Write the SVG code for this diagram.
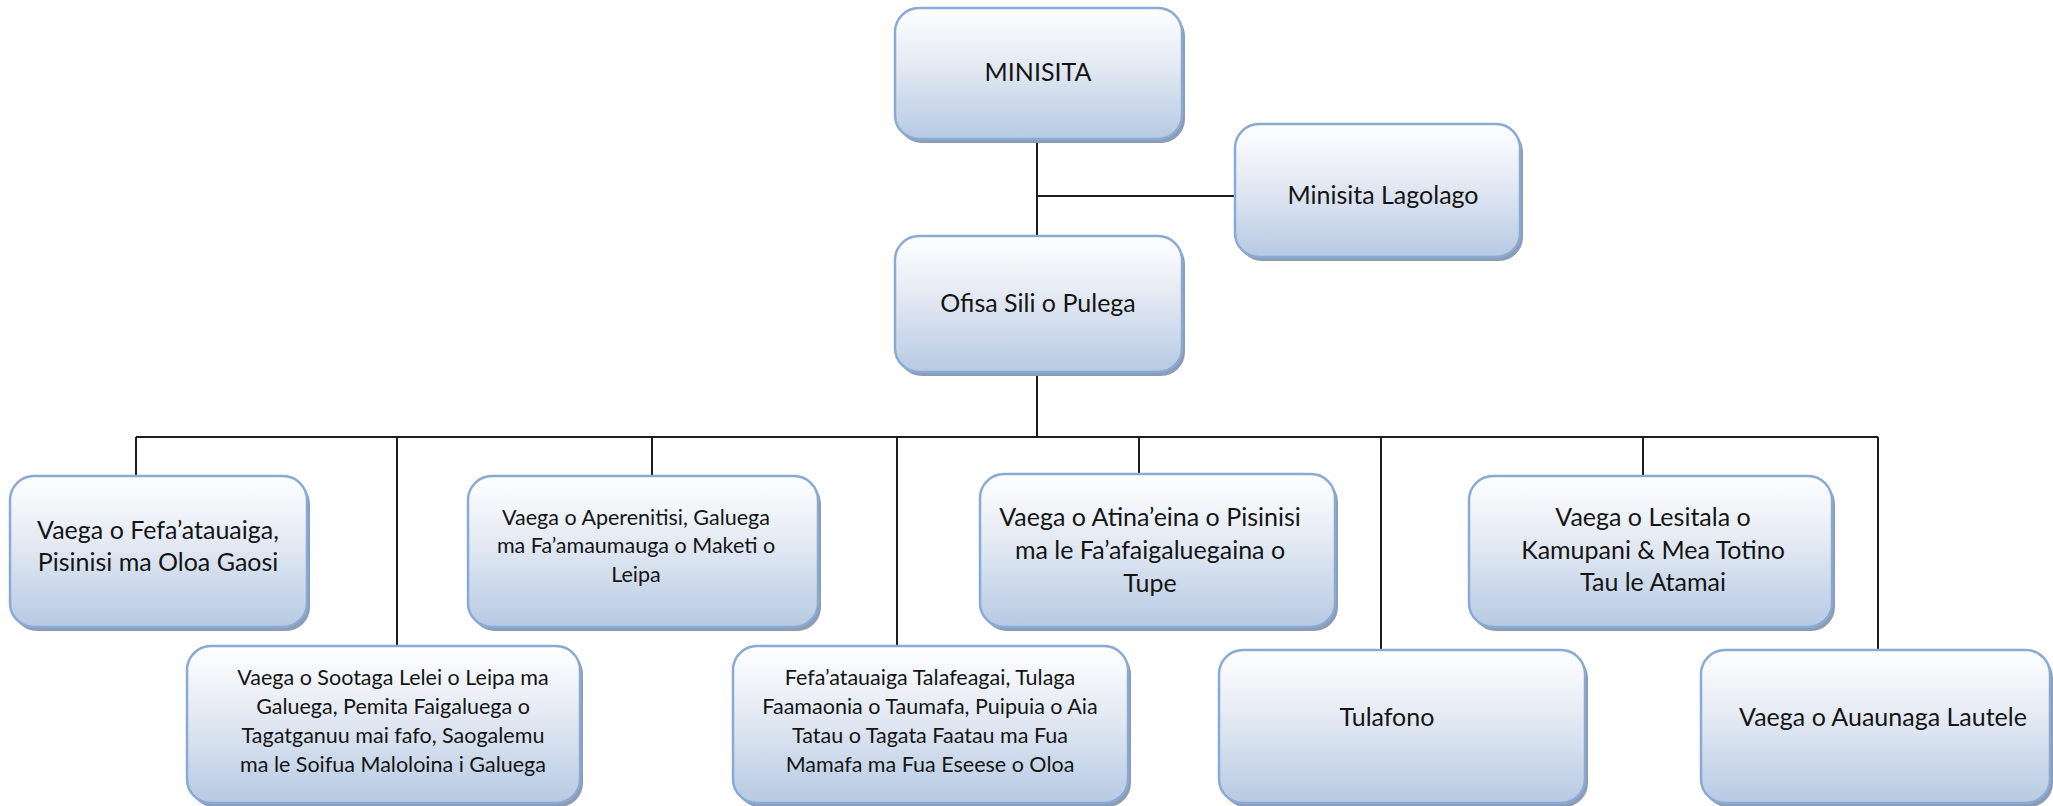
<svg xmlns="http://www.w3.org/2000/svg" width="2053" height="806" viewBox="0 0 2053 806">
<defs>
<linearGradient id="g" x1="0" y1="0" x2="0" y2="1">
<stop offset="0" stop-color="#ffffff"/>
<stop offset="0.45" stop-color="#e3e9f3"/>
<stop offset="1" stop-color="#b6cae3"/>
</linearGradient>
</defs>
<style>
.sh{fill:#8d9cb3;}
.bx{fill:url(#g);stroke:#8aaad6;stroke-width:2.5;}
.t{font-family:Lato,"Open Sans",sans-serif;fill:#141414;text-anchor:middle;}
.L{font-size:25px;}
.S{font-size:21.5px;}
.c{fill:none;stroke:#1e1e1e;stroke-width:2;}
</style>
<rect width="2053" height="806" fill="#ffffff"/>
<g id="connectors">
<path class="c" d="M1037 139V236M1037 196H1235M1037 372V437M136 437H1878M136 437V476M397 437V646M652 437V476M897 437V646M1139 437V474M1381 437V650M1643 437V476M1878 437V650"/>
</g>
<g id="n-minisita">
<rect class="sh" x="898" y="12" width="287" height="131" rx="24"/>
<rect class="bx" x="895" y="8" width="287" height="131" rx="24"/>
<text class="t L" x="1038" y="81">MINISITA</text>
</g>
<g id="n-lagolago">
<rect class="sh" x="1238" y="128" width="285" height="133" rx="24"/>
<rect class="bx" x="1235" y="124" width="285" height="133" rx="24"/>
<text class="t L" x="1383" y="204">Minisita Lagolago</text>
</g>
<g id="n-ofisa">
<rect class="sh" x="898" y="240" width="287" height="136" rx="24"/>
<rect class="bx" x="895" y="236" width="287" height="136" rx="24"/>
<text class="t L" x="1038" y="312">Ofisa Sili o Pulega</text>
</g>
<g id="n-fefa">
<rect class="sh" x="13" y="480" width="297" height="151" rx="24"/>
<rect class="bx" x="10" y="476" width="297" height="151" rx="24"/>
<text class="t L" x="158" y="539">Vaega o Fefa’atauaiga,</text>
<text class="t L" x="158" y="571">Pisinisi ma Oloa Gaosi</text>
</g>
<g id="n-aperenitisi">
<rect class="sh" x="471" y="480" width="350" height="151" rx="24"/>
<rect class="bx" x="468" y="476" width="350" height="151" rx="24"/>
<text class="t S" x="636" y="525">Vaega o Aperenitisi, Galuega</text>
<text class="t S" x="636" y="553">ma Fa’amaumauga o Maketi o</text>
<text class="t S" x="636" y="582">Leipa</text>
</g>
<g id="n-atina">
<rect class="sh" x="983" y="478" width="355" height="153" rx="24"/>
<rect class="bx" x="980" y="474" width="355" height="153" rx="24"/>
<text class="t L" x="1150" y="526">Vaega o Atina’eina o Pisinisi</text>
<text class="t L" x="1150" y="559">ma le Fa’afaigaluegaina o</text>
<text class="t L" x="1150" y="592">Tupe</text>
</g>
<g id="n-lesitala">
<rect class="sh" x="1472" y="480" width="363" height="151" rx="24"/>
<rect class="bx" x="1469" y="476" width="363" height="151" rx="24"/>
<text class="t L" x="1653" y="526">Vaega o Lesitala o</text>
<text class="t L" x="1653" y="559">Kamupani &amp; Mea Totino</text>
<text class="t L" x="1653" y="591">Tau le Atamai</text>
</g>
<g id="n-sootaga">
<rect class="sh" x="190" y="650" width="393" height="157" rx="24"/>
<rect class="bx" x="187" y="646" width="393" height="157" rx="24"/>
<text class="t S" x="393" y="685">Vaega o Sootaga Lelei o Leipa ma</text>
<text class="t S" x="393" y="714">Galuega, Pemita Faigaluega o</text>
<text class="t S" x="393" y="743">Tagatganuu mai fafo, Saogalemu</text>
<text class="t S" x="393" y="772">ma le Soifua Maloloina i Galuega</text>
</g>
<g id="n-talafeagai">
<rect class="sh" x="736" y="650" width="395" height="157" rx="24"/>
<rect class="bx" x="733" y="646" width="395" height="157" rx="24"/>
<text class="t S" x="930" y="685">Fefa’atauaiga Talafeagai, Tulaga</text>
<text class="t S" x="930" y="714">Faamaonia o Taumafa, Puipuia o Aia</text>
<text class="t S" x="930" y="743">Tatau o Tagata Faatau ma Fua</text>
<text class="t S" x="930" y="772">Mamafa ma Fua Eseese o Oloa</text>
</g>
<g id="n-tulafono">
<rect class="sh" x="1222" y="654" width="366" height="153" rx="24"/>
<rect class="bx" x="1219" y="650" width="366" height="153" rx="24"/>
<text class="t L" x="1387" y="726">Tulafono</text>
</g>
<g id="n-auaunaga">
<rect class="sh" x="1704" y="654" width="349" height="153" rx="24"/>
<rect class="bx" x="1701" y="650" width="349" height="153" rx="24"/>
<text class="t L" x="1883" y="726">Vaega o Auaunaga Lautele</text>
</g>
</svg>
